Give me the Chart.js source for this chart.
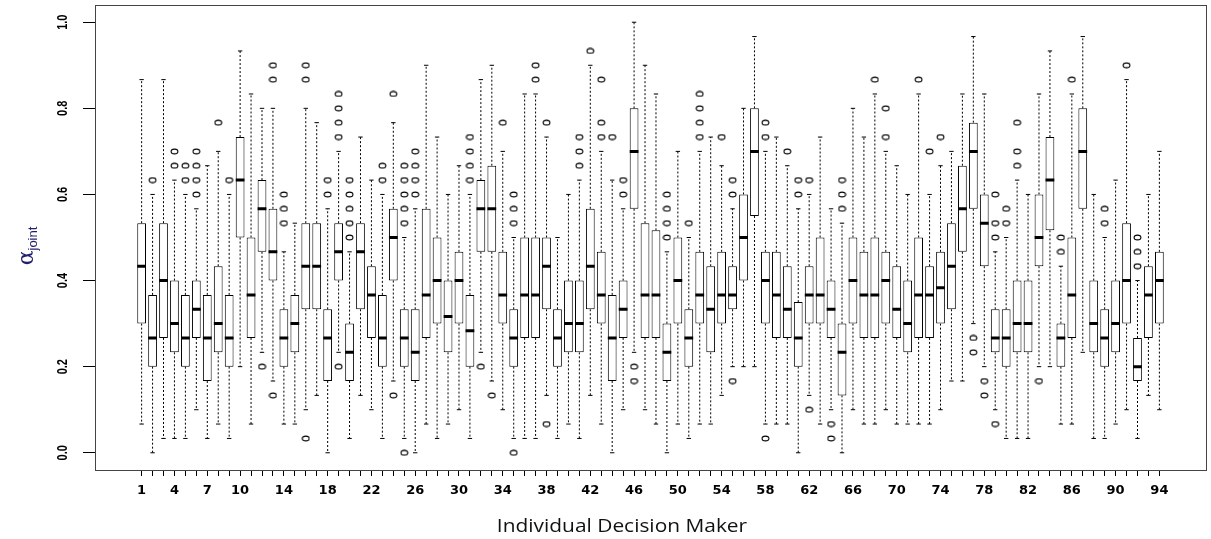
<!DOCTYPE html>
<html>
<head>
<meta charset="utf-8">
<title>Individual Decision Maker</title>
<script src="https://cdn.jsdelivr.net/npm/chart.js@4.4.1/dist/chart.umd.min.js"></script>
<style>
  html, body { margin: 0; padding: 0; background: #fff; }
</style>
</head>
<body>
<canvas id="chart" width="1211" height="539"></canvas>
<script>
// five-number summary per decision maker (1..94), plus outlying points
var lowerWhisker = [
  0.0667, 0, 0.0333, 0.0333, 0.0333, 0.1, 0.0333, 0.0667, 0.0333, 0.2,
  0.0667, 0.2333, 0.1667, 0.0667, 0.0667, 0.1, 0.1333, 0, 0.2333, 0.0333,
  0.1333, 0.1, 0.0333, 0.1667, 0.0333, 0, 0.0667, 0.0333, 0.0667, 0.1,
  0.0333, 0.2333, 0.1667, 0.1, 0.0333, 0.0333, 0.0333, 0.1333, 0.0333, 0.0667,
  0.0333, 0.1333, 0.0667, 0, 0.1, 0.2333, 0.1, 0.0667, 0, 0.0667,
  0.0333, 0.0667, 0.0667, 0.1333, 0.2, 0.2, 0.2, 0.0667, 0.0667, 0.0667,
  0, 0.1333, 0.0667, 0.1, 0, 0.1, 0.0667, 0.0667, 0.1, 0.0667,
  0.0667, 0.0667, 0.0667, 0.1, 0.1667, 0.1667, 0.3, 0.2, 0.1, 0.0333,
  0.0333, 0.0333, 0.2, 0.2, 0.0667, 0.0667, 0.2333, 0.0333, 0.0333, 0.0667,
  0.1, 0.0333, 0.1333, 0.1
];
var q1 = [
  0.3, 0.2, 0.2667, 0.2333, 0.2, 0.2667, 0.1667, 0.2333, 0.2, 0.5,
  0.2667, 0.4667, 0.4, 0.2, 0.2333, 0.3333, 0.3333, 0.1667, 0.4, 0.1667,
  0.3333, 0.2667, 0.2, 0.4, 0.2, 0.1667, 0.2667, 0.3, 0.2333, 0.3,
  0.2, 0.4667, 0.4667, 0.3, 0.2, 0.2667, 0.2667, 0.3333, 0.2, 0.2333,
  0.2333, 0.3333, 0.3, 0.1667, 0.2667, 0.5667, 0.2667, 0.2667, 0.1667, 0.3,
  0.2, 0.3, 0.2333, 0.3, 0.3333, 0.4, 0.55, 0.3, 0.2667, 0.2667,
  0.2, 0.3, 0.3, 0.2667, 0.1333, 0.3, 0.2667, 0.2667, 0.3, 0.2667,
  0.2333, 0.2667, 0.2667, 0.3, 0.3333, 0.4667, 0.5667, 0.4333, 0.2333, 0.2,
  0.2333, 0.2333, 0.4333, 0.5167, 0.2, 0.2667, 0.5667, 0.2333, 0.2, 0.2333,
  0.3, 0.1667, 0.2667, 0.3
];
var medians = [
  0.4333, 0.2667, 0.4, 0.3, 0.2667, 0.3333, 0.2667, 0.3, 0.2667, 0.6333,
  0.3667, 0.5667, 0.4667, 0.2667, 0.3, 0.4333, 0.4333, 0.2667, 0.4667, 0.2333,
  0.4667, 0.3667, 0.2667, 0.5, 0.2667, 0.2333, 0.3667, 0.4, 0.3167, 0.4,
  0.2833, 0.5667, 0.5667, 0.3667, 0.2667, 0.3667, 0.3667, 0.4333, 0.2667, 0.3,
  0.3, 0.4333, 0.3667, 0.2667, 0.3333, 0.7, 0.3667, 0.3667, 0.2333, 0.4,
  0.2667, 0.3667, 0.3333, 0.3667, 0.3667, 0.5, 0.7, 0.4, 0.3667, 0.3333,
  0.2667, 0.3667, 0.3667, 0.3333, 0.2333, 0.4, 0.3667, 0.3667, 0.4, 0.3333,
  0.3, 0.3667, 0.3667, 0.3833, 0.4333, 0.5667, 0.7, 0.5333, 0.2667, 0.2667,
  0.3, 0.3, 0.5, 0.6333, 0.2667, 0.3667, 0.7, 0.3, 0.2667, 0.3,
  0.4, 0.2, 0.3667, 0.4
];
var q3 = [
  0.5333, 0.3667, 0.5333, 0.4, 0.3667, 0.4, 0.3667, 0.4333, 0.3667, 0.7333,
  0.5, 0.6333, 0.5667, 0.3333, 0.3667, 0.5333, 0.5333, 0.3333, 0.5333, 0.3,
  0.5333, 0.4333, 0.3667, 0.5667, 0.3333, 0.3333, 0.5667, 0.5, 0.4, 0.4667,
  0.3667, 0.6333, 0.6667, 0.4667, 0.3333, 0.5, 0.5, 0.5, 0.3333, 0.4,
  0.4, 0.5667, 0.4667, 0.3667, 0.4, 0.8, 0.5333, 0.5167, 0.3, 0.5,
  0.3333, 0.4667, 0.4333, 0.4667, 0.4333, 0.6, 0.8, 0.4667, 0.4667, 0.4333,
  0.35, 0.4333, 0.5, 0.4, 0.3, 0.5, 0.4667, 0.5, 0.4667, 0.4333,
  0.4, 0.5, 0.4333, 0.4667, 0.5333, 0.6667, 0.7667, 0.6, 0.3333, 0.3333,
  0.4, 0.4, 0.6, 0.7333, 0.3, 0.5, 0.8, 0.4, 0.3333, 0.4,
  0.5333, 0.2667, 0.4333, 0.4667
];
var upperWhisker = [
  0.8667, 0.6, 0.8667, 0.6333, 0.6, 0.5667, 0.6667, 0.7, 0.6, 0.9333,
  0.8333, 0.8, 0.8, 0.4667, 0.5333, 0.8, 0.7667, 0.5667, 0.7, 0.4667,
  0.7333, 0.6333, 0.6, 0.7667, 0.5, 0.5667, 0.9, 0.7333, 0.6, 0.6667,
  0.6, 0.8667, 0.9, 0.7, 0.5, 0.8333, 0.8333, 0.7333, 0.5, 0.6,
  0.6333, 0.9, 0.7, 0.6333, 0.5667, 1.0, 0.9, 0.8333, 0.4667, 0.7,
  0.5, 0.7, 0.7333, 0.6667, 0.5667, 0.8, 0.9667, 0.7, 0.7333, 0.6667,
  0.5667, 0.6, 0.7333, 0.5667, 0.5333, 0.8, 0.7333, 0.8333, 0.7, 0.6667,
  0.6, 0.8333, 0.6, 0.6667, 0.7, 0.8333, 0.9667, 0.8333, 0.4667, 0.5,
  0.6333, 0.6, 0.8333, 0.9333, 0.4333, 0.8333, 0.9667, 0.6, 0.5, 0.6333,
  0.8667, 0.4, 0.6, 0.7
];
var outliers = [
  [], [0.6333], [], [0.6667, 0.7], [0.6333, 0.6667],
  [0.6, 0.6333, 0.6667, 0.7], [], [0.7667], [0.6333], [],
  [], [0.2], [0.9, 0.8667, 0.1333], [0.6, 0.5667, 0.5333], [],
  [0.9, 0.8667, 0.0333], [], [0.6333, 0.6], [0.8333, 0.8, 0.7667, 0.7333, 0.2], [0.6333, 0.6, 0.5667, 0.5333, 0.5],
  [], [], [0.6667, 0.6333], [0.8333, 0.1333], [0.6667, 0.6333, 0.6, 0.5667, 0.5333, 0],
  [0.7, 0.6667, 0.6333, 0.6], [], [], [], [],
  [0.7333, 0.7, 0.6667, 0.6333], [0.2], [0.1333], [0.7667], [0.6, 0.5667, 0.5333, 0],
  [], [0.9, 0.8667], [0.7667, 0.0667], [], [],
  [0.7333, 0.7, 0.6667], [0.9333], [0.8667, 0.7667, 0.7333], [0.7333], [0.6333, 0.6],
  [0.2, 0.1667], [], [], [0.6, 0.5667, 0.5333, 0.5], [],
  [0.5333], [0.8333, 0.8, 0.7667, 0.7333], [], [0.7333], [0.6333, 0.6, 0.1667],
  [], [], [0.7667, 0.7333, 0.0333], [], [0.7],
  [0.6333, 0.6], [0.6333, 0.1], [], [0.0667, 0.0333], [0.6333, 0.6, 0.5667],
  [], [], [0.8667], [0.8, 0.7333], [],
  [], [0.8667], [0.7], [0.7333], [],
  [], [0.2667, 0.2333], [0.1667, 0.1333], [0.6, 0.5333, 0.5, 0.0667], [0.5667, 0.5333],
  [0.7667, 0.7, 0.6667], [], [0.1667], [], [0.5, 0.4667],
  [0.8667], [], [], [0.5667, 0.5333], [],
  [0.9], [0.5, 0.4667, 0.4333], [], []
];
var xTickLabels = [1, 4, 7, 10, 14, 18, 22, 26, 30, 34, 38, 42, 46, 50, 54, 58, 62, 66, 70, 74, 78, 82, 86, 90, 94];
var yTicks = [0, 0.2, 0.4, 0.6, 0.8, 1.0];

var ids = medians.map(function (m, i) { return i + 1; });

var boxData = ids.map(function (id, i) {
  return { x: id, y: [q1[i], q3[i]] };
});
var whiskerData = [];
var stapleData = [];
var medianData = [];
var outlierData = [];
ids.forEach(function (id, i) {
  whiskerData.push({ x: id, y: q1[i] }, { x: id, y: lowerWhisker[i] }, { x: id, y: null });
  whiskerData.push({ x: id, y: q3[i] }, { x: id, y: upperWhisker[i] }, { x: id, y: null });
  stapleData.push({ x: id - 0.2, y: lowerWhisker[i] }, { x: id + 0.2, y: lowerWhisker[i] }, { x: id, y: null });
  stapleData.push({ x: id - 0.2, y: upperWhisker[i] }, { x: id + 0.2, y: upperWhisker[i] }, { x: id, y: null });
  medianData.push({ x: id - 0.4, y: medians[i] }, { x: id + 0.4, y: medians[i] }, { x: id, y: null });
  outliers[i].forEach(function (v) { outlierData.push({ x: id, y: v }); });
});

// flat open ellipse used as the outlier marker
var ring = document.createElement('canvas');
ring.width = 9;
ring.height = 7;
(function () {
  var c = ring.getContext('2d');
  c.strokeStyle = '#000';
  c.lineWidth = 1.1;
  c.beginPath();
  c.ellipse(4.5, 3.5, 3.4, 2.4, 0, 0, Math.PI * 2);
  c.stroke();
})();

// frame, rotated y labels and axis titles
var decorations = {
  id: 'decorations',
  beforeDraw: function (chart) {
    var ctx = chart.ctx;
    ctx.save();
    ctx.fillStyle = '#fff';
    ctx.fillRect(0, 0, chart.width, chart.height);
    ctx.restore();
  },
  afterDraw: function (chart) {
    var ctx = chart.ctx;
    var a = chart.chartArea;
    var yScale = chart.scales.y;
    ctx.save();
    ctx.strokeStyle = '#444';
    ctx.lineWidth = 1;
    ctx.strokeRect(Math.round(a.left) + 0.5, Math.round(a.top) + 0.5,
      Math.round(a.right - a.left), Math.round(a.bottom - a.top));

    ctx.fillStyle = '#000';
    ctx.textAlign = 'center';
    ctx.textBaseline = 'middle';
    ctx.font = 'bold 11px "Liberation Sans", Arial, sans-serif';
    yTicks.forEach(function (v) {
      ctx.save();
      ctx.translate(63, yScale.getPixelForValue(v));
      ctx.rotate(-Math.PI / 2);
      ctx.scale(1, 1.3);
      ctx.fillText(v.toFixed(1), 0, 0);
      ctx.restore();
    });

    // alpha with "joint" subscript
    ctx.save();
    ctx.translate(28, 246);
    ctx.rotate(-Math.PI / 2);
    ctx.fillStyle = '#1f1f6b';
    ctx.textAlign = 'left';
    ctx.textBaseline = 'alphabetic';
    var alphaFont = '22px "DejaVu Serif", serif';
    var subFont = '13px "Liberation Sans", Arial, sans-serif';
    ctx.font = alphaFont;
    var aw = ctx.measureText('\u03b1').width;
    ctx.font = subFont;
    var jw = ctx.measureText('joint').width;
    var start = -(aw + jw) / 2;
    ctx.font = alphaFont;
    ctx.fillText('\u03b1', start, 5);
    ctx.font = subFont;
    ctx.fillText('joint', start + aw, 9);
    ctx.restore();

    ctx.save();
    ctx.translate(622, 527);
    ctx.scale(1.1, 1);
    ctx.fillStyle = '#111';
    ctx.font = '19px "Open Sans", sans-serif';
    ctx.textAlign = 'center';
    ctx.textBaseline = 'middle';
    ctx.fillText('Individual Decision Maker', 0, 0);
    ctx.restore();
    ctx.restore();
  }
};

new Chart(document.getElementById('chart'), {
  type: 'scatter',
  data: {
    datasets: [
      {
        type: 'line',
        data: medianData,
        borderColor: '#000',
        borderWidth: 3,
        pointRadius: 0,
        spanGaps: false,
        order: 0
      },
      {
        type: 'scatter',
        data: outlierData,
        pointStyle: ring,
        pointRadius: 4,
        order: 0
      },
      {
        type: 'bar',
        data: boxData,
        backgroundColor: '#fff',
        borderColor: '#000',
        borderWidth: 1,
        borderSkipped: false,
        categoryPercentage: 1,
        barPercentage: 0.8,
        order: 1
      },
      {
        type: 'line',
        data: whiskerData,
        borderColor: '#000',
        borderWidth: 1,
        borderDash: [2, 2],
        pointRadius: 0,
        spanGaps: false,
        order: 2
      },
      {
        type: 'line',
        data: stapleData,
        borderColor: '#000',
        borderWidth: 1,
        pointRadius: 0,
        spanGaps: false,
        order: 2
      }
    ]
  },
  options: {
    responsive: false,
    animation: false,
    devicePixelRatio: 1,
    events: [],
    layout: { padding: { top: 4, right: 4, left: 0, bottom: 0 } },
    plugins: {
      legend: { display: false },
      tooltip: { enabled: false }
    },
    scales: {
      x: {
        type: 'linear',
        min: -3.26,
        max: 98.26,
        offset: false,
        afterBuildTicks: function (scale) {
          scale.ticks = ids.map(function (v) { return { value: v }; });
        },
        afterFit: function (scale) { scale.height = 69; },
        ticks: {
          autoSkip: false,
          minRotation: 0,
          maxRotation: 0,
          padding: 7,
          color: '#000',
          font: { family: '"DejaVu Sans", sans-serif', size: 13, weight: 'bold' },
          callback: function (v) { return xTickLabels.indexOf(v) >= 0 ? String(v) : ''; }
        },
        grid: {
          offset: false,
          drawOnChartArea: false,
          drawTicks: true,
          tickLength: 6,
          tickColor: '#000',
          tickWidth: 1
        },
        border: { display: false }
      },
      y: {
        type: 'linear',
        min: -0.04,
        max: 1.04,
        afterBuildTicks: function (scale) {
          scale.ticks = yTicks.map(function (v) { return { value: v }; });
        },
        afterFit: function (scale) { scale.width = 95; },
        ticks: { display: false },
        grid: {
          drawOnChartArea: false,
          drawTicks: true,
          tickLength: 12,
          tickColor: '#000',
          tickWidth: 1
        },
        border: { display: false }
      }
    }
  },
  plugins: [decorations]
});
</script>
</body>
</html>
